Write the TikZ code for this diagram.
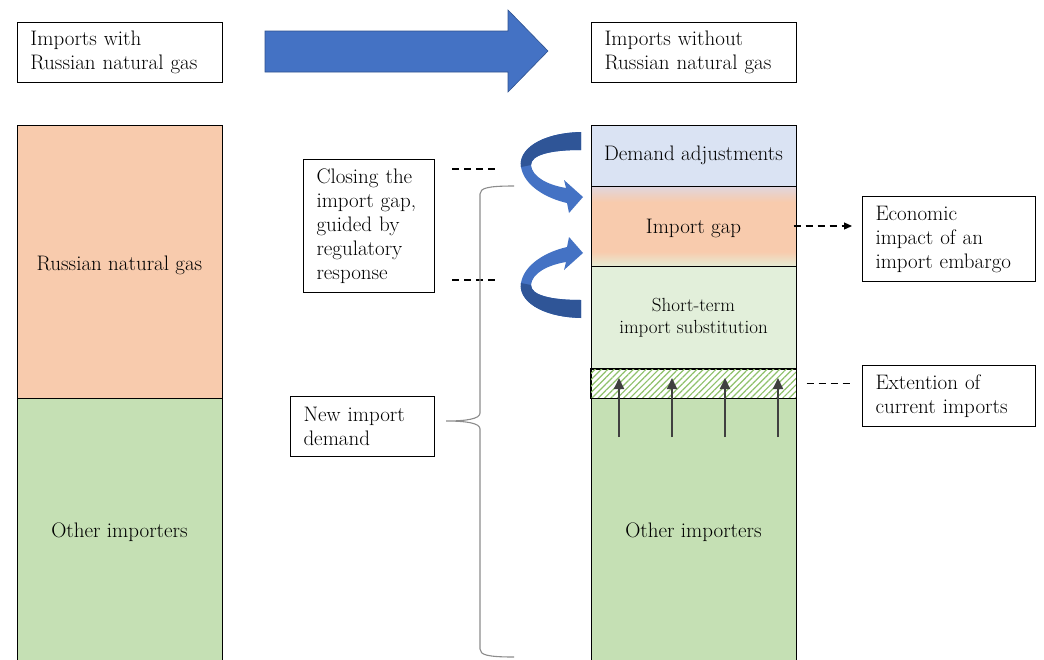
\documentclass[tikz,border=0pt]{standalone}
\usepackage{fontspec}
\usetikzlibrary{arrows.meta,patterns.meta}
\definecolor{peach}{HTML}{F8CBAD}
\definecolor{ogreen}{HTML}{C5E0B4}
\definecolor{lblue}{HTML}{DAE3F3}
\definecolor{lgreen}{HTML}{E2EFDA}
\definecolor{ablue}{HTML}{4472C4}
\definecolor{adark}{HTML}{2F5597}
\definecolor{aline}{HTML}{2F528F}
\definecolor{hgreen}{HTML}{8FC16B}
\definecolor{gtop}{HTML}{E0D6DE}
\definecolor{gbot}{HTML}{E6ECD4}
\definecolor{upgray}{HTML}{404040}
\definecolor{bracegray}{HTML}{8C8C8C}
\pgfdeclareverticalshading{gapshade}{100bp}{color(0bp)=(gbot); color(25bp)=(gbot); color(34bp)=(peach); color(65bp)=(peach); color(75bp)=(gtop); color(100bp)=(gtop)}
\begin{document}
\begin{tikzpicture}[x=1pt,y=-1pt,
  tbox/.style={draw=black, line width=1pt, fill=white, align=left, inner xsep=13pt, inner ysep=0pt, anchor=north west, font=\fontsize{21}{24}\selectfont},
  col/.style={draw=black, line width=1pt, minimum width=205pt, inner sep=0pt, font=\fontsize{21}{24}\selectfont, align=center},
  coltext/.style={font=\fontsize{21}{24}\selectfont, inner sep=0pt},
  dline/.style={dash pattern=on 7pt off 5pt, line width=1.2pt, black},
  uparrow/.style={line width=2pt, upgray, -{Triangle[width=10pt,length=11pt]}},
  bracestyle/.style={line width=1.1pt, bracegray},
  blockarrow/.style={fill=ablue, draw=aline, line width=0.6pt}
]
\useasboundingbox (0,0) rectangle (1044,659);
\fill[white] (0,0) rectangle (1044,659);

% top boxes
\node[tbox, text width=179pt, minimum height=60pt] (with) at (17,22) {Imports with\\Russian natural gas};
\node[tbox, text width=179pt, minimum height=60pt] (without) at (591,22) {Imports without\\Russian natural gas};

% big arrow
\draw[blockarrow] (265,31) -- (508,31) -- (508,10) -- (548,51) -- (508,92) -- (508,72) -- (265,72) -- cycle;

% left column
\node[col, fill=peach, minimum height=273pt] (rng) at (119.5,261.5) {};
\node[coltext] (rngt) at (119.5,265) {Russian natural gas};
\node[col, fill=ogreen, minimum height=264pt] (othl) at (119.5,530) {};
\node[coltext] (othlt) at (119.5,532) {Other importers};

% right column
\node[col, fill=lblue, minimum height=61pt] (dem) at (693.5,155.5) {Demand adjustments};
\node[col, shading=gapshade, minimum height=80pt] (gap) at (693.5,226) {};
\node[coltext] (gapt) at (693.5,228) {Import gap};
\node[col, fill=lgreen, minimum height=103pt, font=\fontsize{19}{22}\selectfont] (sts) at (693.5,318) {Short-term\\import substitution};
\node[col, fill=white, minimum height=29pt] (hatch) at (693.5,383.5) {};
\fill[pattern={Lines[angle=45,distance=4.5pt,line width=1.2pt]}, pattern color=hgreen] ([shift={(0.5pt,-0.5pt)}]hatch.north west) rectangle ([shift={(-0.5pt,0.5pt)}]hatch.south east);
\draw[line width=1pt] (hatch.north west) rectangle (hatch.south east);
\node[col, fill=ogreen, minimum height=264pt] (othr) at (693.5,530) {};
\node[coltext] (othrt) at (693.5,532) {Other importers};

% up arrows
\foreach \xx/\nm in {619/a,672/b,725/c,778/d}{
  \coordinate (up\nm s) at (\xx,437);
  \coordinate (up\nm e) at (\xx,378);
  \draw[uparrow] (up\nm s) -- (up\nm e);
}

% curved arrows
\fill[ablue] (581,132) .. controls (540,133) and (518,150) .. (521,167) .. controls (524,185) and (545,198) .. (567,203) -- (569,213) -- (583,197) -- (564,180) -- (566,188) .. controls (548,185) and (532,177) .. (531,165) .. controls (531,155) and (550,150) .. (581,150) -- cycle;
\fill[adark] (581,132) .. controls (540,133) and (518,150) .. (521,167) -- (531,165) .. controls (531,155) and (550,150) .. (581,150) -- cycle;
\fill[ablue] (581,318) .. controls (540,317) and (518,300) .. (521,283) .. controls (524,265) and (545,252) .. (567,247) -- (569,237) -- (583,253) -- (564,270) -- (566,262) .. controls (548,265) and (532,273) .. (531,285) .. controls (531,295) and (550,300) .. (581,300) -- cycle;
\fill[adark] (581,318) .. controls (540,317) and (518,300) .. (521,283) -- (531,285) .. controls (531,295) and (550,300) .. (581,300) -- cycle;

% closing box and dashed lines
\node[tbox, text width=105pt, minimum height=133pt] (close) at (303,159) {Closing the\\import gap,\\guided by\\regulatory\\response};
\coordinate (d1a) at (452,169); \coordinate (d1b) at (498,169);
\coordinate (d2a) at (452,280); \coordinate (d2b) at (498,280);
\draw[dline] (d1a) -- (d1b);
\draw[dline] (d2a) -- (d2b);

% new import demand box
\node[tbox, text width=118pt, minimum height=60pt] (newd) at (290,396) {New import\\demand};

% brace
\coordinate (btop) at (514,186);
\coordinate (btip) at (446,421);
\coordinate (bbot) at (514,657);
\draw[bracestyle] (btop) .. controls (488,186) and (480,188) .. (480,194) -- (480,413) .. controls (480,419) and (466,421) .. (btip)
  .. controls (466,421) and (480,423) .. (480,429) -- (480,649) .. controls (480,655) and (488,657) .. (bbot);

% right boxes
\node[tbox, text width=147pt, minimum height=85pt] (econ) at (862,196) {Economic\\impact of an\\import embargo};
\node[tbox, text width=147pt, minimum height=61pt] (ext) at (862,365) {Extention of\\current imports};

\draw[dline, -{Triangle[width=7pt,length=8pt]}, shorten <=-3pt, shorten >=10pt] (gap.east) -- (gap.east -| econ.west);
\draw[dline, shorten <=10pt, shorten >=11pt] (hatch.east) -- (hatch.east -| ext.west);
\end{tikzpicture}
\end{document}
